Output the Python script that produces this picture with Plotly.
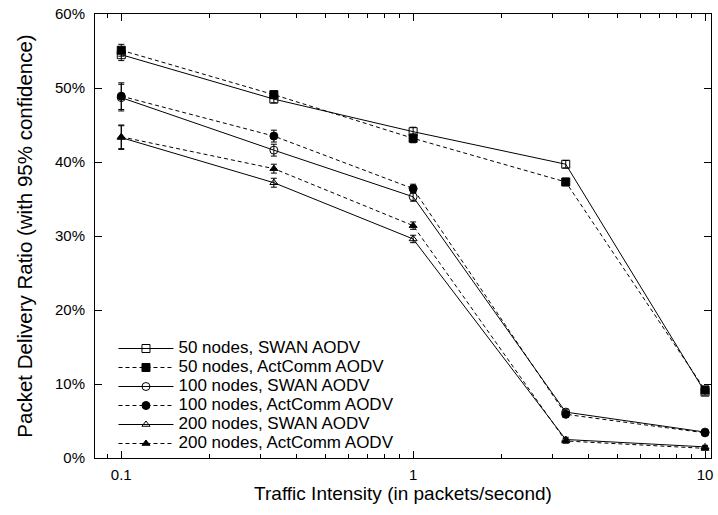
import plotly.graph_objects as go

x_vals = [0.1, 0.3333, 1.0, 3.333, 10.0]

swan50 = [54.5, 48.5, 44.1, 39.7, 8.9]
act50 = [55.1, 49.1, 43.2, 37.3, 9.2]
swan100 = [48.7, 41.6, 35.3, 6.2, 3.5]
act100 = [48.9, 43.5, 36.4, 5.9, 3.4]
swan200 = [43.3, 37.2, 29.6, 2.5, 1.5]
act200 = [43.4, 39.1, 31.4, 2.3, 1.3]

err50 = [0.8, 0.5, 0.6, 0.5, 0.4]
err100 = [1.8, 0.8, 0.6, 0.4, 0.3]
err200 = [1.6, 0.6, 0.5, 0.3, 0.2]

names = ["50 nodes, SWAN AODV", "50 nodes, ActComm AODV",
         "100 nodes, SWAN AODV", "100 nodes, ActComm AODV",
         "200 nodes, SWAN AODV", "200 nodes, ActComm AODV"]

series = [
    (swan50, err50, "solid", "square-open", 8),
    (act50, err50, "4px,3px", "square", 8),
    (swan100, err100, "solid", "circle-open", 8),
    (act100, err100, "4px,3px", "circle", 8),
    (swan200, err200, "solid", "triangle-up-open", 7),
    (act200, err200, "4px,3px", "triangle-up", 7),
]

fig = go.Figure()
for name, (ys, errs, dash, sym, sz) in zip(names, series):
    fig.add_trace(go.Scatter(
        x=x_vals, y=ys, mode="lines+markers",
        name='<span style="font-size:17px">' + name + '</span>',
        line=dict(color="black", width=1, dash=dash),
        marker=dict(symbol=sym, size=sz, color="black",
                    line=dict(color="black", width=1)),
        error_y=dict(type="data", array=errs, visible=True,
                     color="black", thickness=1, width=3),
    ))

font = "Liberation Sans, Arial, sans-serif"
fig.update_layout(
    width=718, height=515,
    margin=dict(l=95, r=5, t=13, b=57),
    paper_bgcolor="white", plot_bgcolor="white",
    font=dict(family=font, size=15, color="black"),
    showlegend=True,
    legend=dict(x=0.03, y=0.0, xanchor="left", yanchor="bottom",
                bgcolor="rgba(0,0,0,0)", font=dict(size=12),
                itemwidth=55, tracegroupgap=0),
    xaxis=dict(
        type="log", range=[-1.09, 1.0205],
        tickvals=[0.1, 1, 10], ticktext=["0.1", "1", "10"],
        ticks="inside", ticklen=7, tickcolor="black",
        ticklabelstandoff=3, ticklabeloverflow="allow",
        showline=True, linecolor="black", linewidth=1, mirror="ticks",
        showgrid=False, zeroline=False,
        minor=dict(ticks="inside", ticklen=4, tickcolor="black",
                   tickvals=[0.09, 0.2, 0.3, 0.4, 0.5, 0.6, 0.7, 0.8, 0.9,
                             2, 3, 4, 5, 6, 7, 8, 9], showgrid=False),
        title=dict(text="Traffic Intensity (in packets/second)", standoff=0,
                   font=dict(size=19)),
    ),
    yaxis=dict(
        range=[0, 60], dtick=10, ticksuffix="%",
        ticks="inside", ticklen=7, tickcolor="black",
        ticklabelstandoff=6, ticklabeloverflow="allow",
        showline=True, linecolor="black", linewidth=1, mirror="ticks",
        showgrid=False, zeroline=False,
        title=dict(text="Packet Delivery Ratio (with 95% confidence)", standoff=16,
                   font=dict(size=20.5)),
    ),
)

fig.write_html(
    "out.html",
    config={"displayModeBar": False},
    post_script="document.body.style.margin='0';document.body.style.overflow='hidden';",
)
